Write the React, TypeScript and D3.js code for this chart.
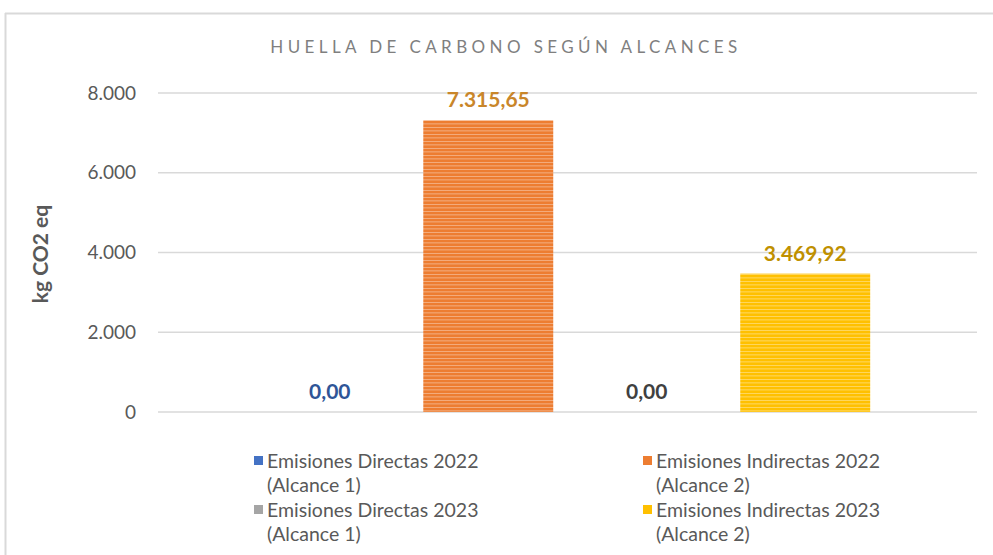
import { useMemo } from 'react'
import * as d3 from 'd3'

const seriesNames = [
  'Emisiones Directas 2022 (Alcance 1)',
  'Emisiones Indirectas 2022 (Alcance 2)',
  'Emisiones Directas 2023 (Alcance 1)',
  'Emisiones Indirectas 2023 (Alcance 2)',
]
const seriesValues = [0, 7315.65, 0, 3469.92]
const seriesLabels = ['0,00', '7.315,65', '0,00', '3.469,92']
const seriesColors = ['#4472C4', '#ED7D31', '#A5A5A5', '#FFC000']
const stripeColors = ['#8FAADC', '#F4B183', '#C9C9C9', '#FFD966']
const labelColors = ['#2F5597', '#C9862A', '#404040', '#BF9000']
const legendLines = [
  ['Emisiones Directas 2022', '(Alcance 1)'],
  ['Emisiones Indirectas 2022', '(Alcance 2)'],
  ['Emisiones Directas 2023', '(Alcance 1)'],
  ['Emisiones Indirectas 2023', '(Alcance 2)'],
]
const yTicks = [0, 2000, 4000, 6000, 8000]
const yTickLabels = ['0', '2.000', '4.000', '6.000', '8.000']

const W = 993
const H = 555
const FONT = 'Lato, "Open Sans", sans-serif'

export default function App() {
  const x = useMemo(() => d3.scaleBand<string>().domain(seriesNames).range([158, 977]).paddingInner(0.18).paddingOuter(0.674), [])
  const y = useMemo(() => d3.scaleLinear().domain([0, 8000]).range([412, 93]), [])

  return (
    <svg width={W} height={H} style={{ position: 'absolute', left: 0, top: 0, background: '#fff' }}>
      <defs>
        {seriesColors.map((c, i) => (
          <pattern key={i} id={`stripe${i}`} width={8} height={7} patternUnits="userSpaceOnUse">
            <rect width={8} height={7} fill={c} />
            <rect y={1} width={8} height={1} fill={stripeColors[i]} opacity={0.9} />
            <rect y={4} width={8} height={1} fill={stripeColors[i]} opacity={0.6} />
            <rect y={5} width={8} height={1} fill={stripeColors[i]} opacity={0.35} />
          </pattern>
        ))}
      </defs>

      {/* chart frame */}
      <line x1={5} x2={W} y1={13.5} y2={13.5} stroke="#D9D9D9" strokeWidth={2} />
      <line x1={5.5} x2={5.5} y1={13} y2={H} stroke="#D9D9D9" strokeWidth={2} />

      <text x={506} y={53} textAnchor="middle" fontFamily={FONT} fontSize={17} letterSpacing={4.4} fill="#7F7F7F">
        HUELLA DE CARBONO SEGÚN ALCANCES
      </text>

      {yTicks.map((t, i) => (
        <g key={t}>
          <line x1={158} x2={977} y1={y(t)} y2={y(t)} stroke="#D9D9D9" strokeWidth={1.5} />
          <text x={136} y={y(t)} dy="0.35em" textAnchor="end" fontFamily={FONT} fontSize={19} fill="#595959">
            {yTickLabels[i]}
          </text>
        </g>
      ))}

      <text transform={`translate(48,254) rotate(-90)`} textAnchor="middle" fontFamily={FONT} fontSize={21} fontWeight={700} fill="#595959">
        kg CO2 eq
      </text>

      {seriesNames.map((s, i) => (
        <g key={s}>
          {seriesValues[i] > 0 && (
            <rect x={x(s)} y={y(seriesValues[i])} width={x.bandwidth()} height={y(0) - y(seriesValues[i])} fill={`url(#stripe${i})`} />
          )}
          <text x={(x(s) ?? 0) + x.bandwidth() / 2} y={y(seriesValues[i]) - 13} textAnchor="middle" fontFamily={FONT} fontSize={21} fontWeight={700} fill={labelColors[i]}>
            {seriesLabels[i]}
          </text>
        </g>
      ))}

      {legendLines.map((lines, i) => {
        const lx = i % 2 === 0 ? 254 : 643
        const ly = 461 + Math.floor(i / 2) * 49
        return (
          <g key={i}>
            <rect x={lx} y={ly - 5} width={9} height={9} fill={seriesColors[i]} />
            <text x={lx + 13} y={ly} dy="0.35em" fontFamily={FONT} fontSize={19.5} fill="#595959">{lines[0]}</text>
            <text x={lx + 13} y={ly + 24} dy="0.35em" fontFamily={FONT} fontSize={19.5} fill="#595959">{lines[1]}</text>
          </g>
        )
      })}
    </svg>
  )
}
